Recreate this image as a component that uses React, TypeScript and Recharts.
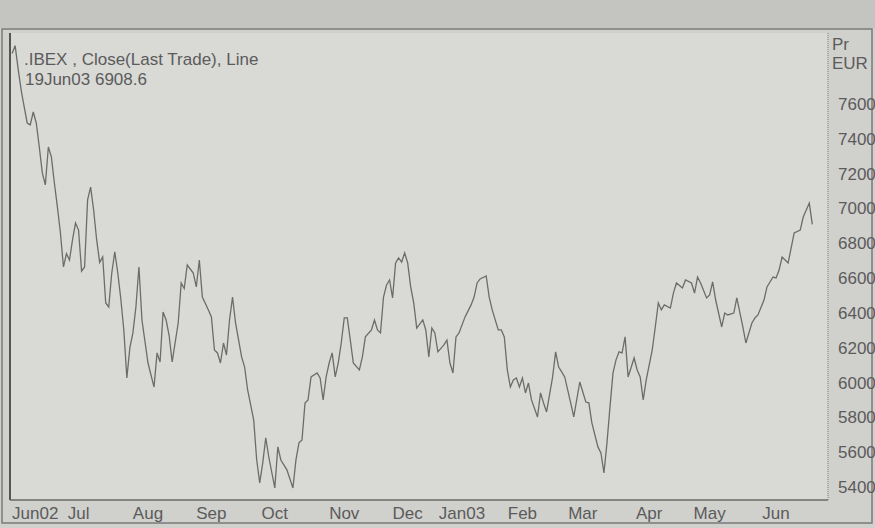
import React from "react";
import { LineChart, Line, XAxis, YAxis, CartesianGrid } from "recharts";

// Trading-session index (0 = 3 Jun 2002 … 265 = 19 Jun 2003) and IBEX close (EUR)
const sessions = [
  0, 1, 2, 3, 4, 5, 6, 7, 8, 9, 10, 11, 12, 13, 14, 15, 16, 17, 18, 19,
  20, 21, 22, 23, 24, 25, 26, 27, 28, 29, 30, 31, 32, 33, 34, 35, 36, 37, 38, 39,
  40, 41, 42, 43, 45, 47, 48, 49, 50, 51, 52, 53, 55, 56, 57, 58, 60, 61, 62, 63,
  65, 66, 67, 68, 69, 70, 71, 72, 73, 74, 76, 77, 78, 80, 81, 82, 83, 84, 85, 87,
  88, 89, 91, 93, 94, 95, 96, 97, 98, 99, 101, 102, 103, 104, 105, 106, 107, 108, 109, 110,
  111, 112, 113, 115, 116, 117, 119, 120, 121, 122, 123, 124, 125, 126, 127, 128, 129, 130, 131, 132,
  133, 134, 136, 137, 138, 139, 140, 141, 143, 144, 145, 146, 147, 148, 150, 152, 153, 154, 155, 157,
  158, 159, 161, 162, 163, 164, 165, 166, 167, 168, 169, 170, 171, 172, 174, 175, 176, 177, 179, 180,
  181, 182, 183, 185, 186, 188, 190, 191, 192, 194, 195, 196, 197, 198, 199, 200, 201, 202, 203, 204,
  206, 207, 208, 209, 210, 212, 213, 214, 215, 216, 218, 219, 220, 222, 223, 225, 226, 227, 228, 230,
  231, 232, 233, 235, 236, 237, 239, 240, 242, 243, 245, 246, 247, 249, 250, 252, 253, 254, 255, 257,
  258, 259, 261, 262, 264, 265,
];

const closes = [
  7890, 7935, 7800, 7680, 7583, 7491, 7480, 7554, 7491, 7353, 7204, 7135, 7353, 7296, 7146, 7008, 6859, 6664, 6740, 6704,
  6819, 6916, 6876, 6640, 6664, 7049, 7123, 6991, 6819, 6690, 6721, 6457, 6434, 6629, 6750, 6629, 6480, 6300, 6026, 6200,
  6285, 6434, 6664, 6359, 6112, 5974, 6170, 6118, 6405, 6359, 6270, 6118, 6342, 6572, 6540, 6675, 6629, 6549, 6704, 6491,
  6417, 6377, 6187, 6170, 6112, 6227, 6158, 6359, 6491, 6342, 6147, 6089, 5957, 5785, 5555, 5423, 5538, 5682, 5572, 5394,
  5630, 5555, 5498, 5394, 5555, 5653, 5670, 5882, 5900, 6032, 6055, 6026, 5900, 6032, 6112, 6170, 6032, 6112, 6227, 6371,
  6371, 6244, 6112, 6072, 6147, 6262, 6302, 6359, 6302, 6285, 6491, 6560, 6589, 6486, 6687, 6716, 6692, 6744, 6687, 6549,
  6457, 6313, 6360, 6302, 6147, 6313, 6285, 6176, 6216, 6244, 6112, 6055, 6262, 6285, 6377, 6446, 6491, 6572, 6595, 6612,
  6491, 6417, 6302, 6302, 6262, 6072, 5974, 6015, 6026, 5974, 6026, 5940, 5997, 5900, 5802, 5940, 5882, 5831, 6032, 6176,
  6089, 6061, 6032, 5882, 5802, 6003, 5888, 5883, 5768, 5630, 5595, 5480, 5653, 5860, 6055, 6130, 6176, 6170, 6262, 6032,
  6141, 6072, 6032, 5900, 6015, 6187, 6319, 6457, 6417, 6446, 6428, 6514, 6572, 6543, 6589, 6572, 6514, 6606, 6572, 6486,
  6503, 6578, 6474, 6319, 6399, 6388, 6399, 6486, 6319, 6227, 6342, 6371, 6388, 6474, 6549, 6606, 6601, 6646, 6721, 6687,
  6773, 6859, 6876, 6951, 7031, 6908.6,
];

const monthTicks = [0, 22, 45, 66, 87, 110, 131, 149, 169, 189, 211, 231, 253];
const monthLabels = ["Jun02", "Jul", "Aug", "Sep", "Oct", "Nov", "Dec", "Jan03", "Feb", "Mar", "Apr", "May", "Jun"];
const priceTicks = [5400, 5600, 5800, 6000, 6200, 6400, 6600, 6800, 7000, 7200, 7400, 7600];

const seriesTitle = ".IBEX , Close(Last Trade), Line";
const lastQuote = "19Jun03 6908.6";
const unitLines = ["Pr", "EUR"];

const data = sessions.map((s, i) => ({ session: s, close: closes[i] }));

const FONT = "'Liberation Sans', Arial, sans-serif";
const TEXT = "#5b5b5b";

const XTick = (props: any) => {
  const { x, y, payload, index } = props;
  const i = monthTicks.indexOf(payload.value);
  const first = index === 0;
  return (
    <text
      x={x}
      y={y}
      dy="0.71em"
      textAnchor={first ? "start" : "middle"}
      fill={TEXT}
      fontSize={17}
      fontFamily={FONT}
    >
      {monthLabels[i]}
    </text>
  );
};

const YTick = (props: any) => {
  const { x, y, payload } = props;
  return (
    <text x={x} y={y} dy="0.355em" textAnchor="start" fill={TEXT} fontSize={17} fontFamily={FONT}>
      {payload.value}
    </text>
  );
};

export default function App() {
  return (
    <div
      style={{
        position: "absolute",
        left: 0,
        top: 0,
        width: 875,
        height: 528,
        background: "#d0d0cd",
        overflow: "hidden",
      }}
    >
      <div style={{ position: "absolute", left: 0, top: 0, width: 875, height: 28, background: "#c4c4c1" }} />
      <div style={{ position: "absolute", left: 0, top: 0 }}>
        <LineChart width={875} height={528} data={data} margin={{ top: 33, right: 0, bottom: 0, left: 0 }}>
          <CartesianGrid horizontal={false} vertical={false} fill="#d9d9d6" />
          <XAxis
            dataKey="session"
            type="number"
            domain={[-0.7, 270.2]}
            ticks={monthTicks}
            interval={0}
            height={28}
            tickLine={false}
            tickMargin={1}
            axisLine={{ stroke: "#6a6a6a", strokeWidth: 1.5 }}
            tick={<XTick />}
            allowDataOverflow
          />
          <XAxis
            xAxisId="top"
            dataKey="session"
            type="number"
            orientation="top"
            domain={[-0.7, 270.2]}
            ticks={monthTicks}
            interval={0}
            height={0}
            mirror
            tick={false}
            tickSize={8}
            tickLine={{ stroke: "#8a8a8a", strokeDasharray: "1 1" }}
            axisLine={{ stroke: "#7a7a7a", strokeDasharray: "1 1" }}
            allowDataOverflow
          />
          <YAxis
            orientation="right"
            domain={[5325, 8008]}
            ticks={priceTicks}
            interval={0}
            width={47}
            tickLine={false}
            tickMargin={4}
            axisLine={{ stroke: "#7a7a7a", strokeDasharray: "1 1" }}
            tick={<YTick />}
            allowDataOverflow
          />
          <YAxis
            yAxisId="left"
            orientation="left"
            domain={[5325, 8008]}
            width={10}
            tick={false}
            tickLine={false}
            axisLine={{ stroke: "#555555", strokeWidth: 2 }}
          />
          <Line
            type="linear"
            dataKey="close"
            stroke="#6c6c6c"
            strokeWidth={1.3}
            dot={false}
            isAnimationActive={false}
          />
          <text x={24} y={65} fill={TEXT} fontSize={17} fontFamily={FONT}>
            {seriesTitle}
          </text>
          <text x={25} y={85} fill={TEXT} fontSize={17} fontFamily={FONT}>
            {lastQuote}
          </text>
          <text x={832} y={50} fill={TEXT} fontSize={17} fontFamily={FONT}>
            {unitLines[0]}
          </text>
          <text x={832} y={69} fill={TEXT} fontSize={17} fontFamily={FONT}>
            {unitLines[1]}
          </text>
          <rect x={2} y={29} width={870} height={494} fill="none" stroke="#7a7a7a" strokeWidth={1.5} />
        </LineChart>
      </div>
    </div>
  );
}
